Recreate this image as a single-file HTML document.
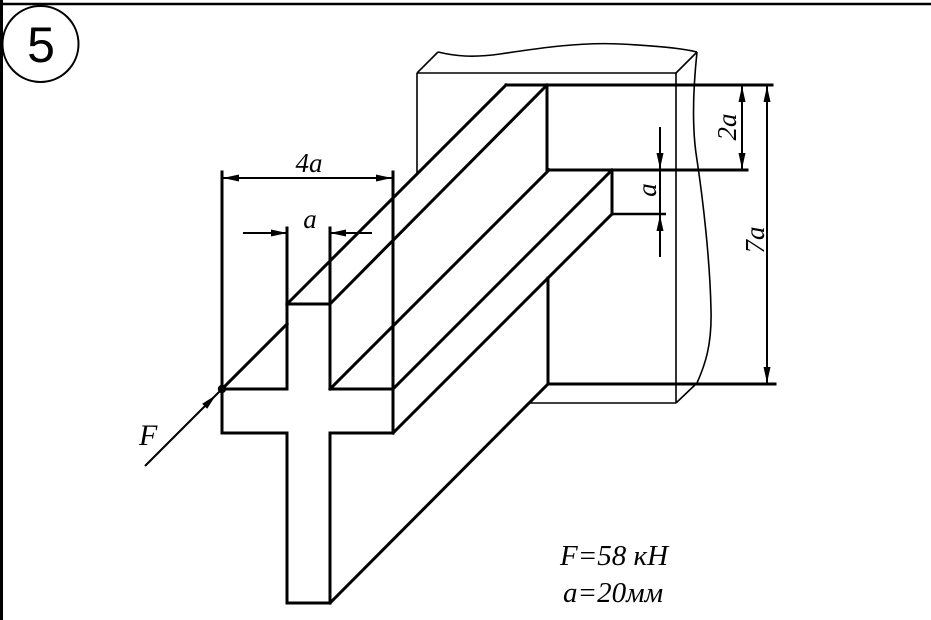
<!DOCTYPE html>
<html>
<head>
<meta charset="utf-8">
<style>
  html,body{margin:0;padding:0;background:#fff;}
  svg{display:block;}
  text{font-family:"Liberation Serif","DejaVu Serif",serif;font-style:italic;fill:#000;}
</style>
</head>
<body>
<svg width="931" height="620" viewBox="0 0 931 620" xmlns="http://www.w3.org/2000/svg">
  <rect x="0" y="0" width="931" height="620" fill="#fff"/>
  <!-- frame -->
  <line x1="0" y1="4" x2="931" y2="4" stroke="#000" stroke-width="2.6"/>
  <line x1="1.5" y1="0" x2="1.5" y2="620" stroke="#000" stroke-width="3"/>

  <!-- number circle -->
  <circle cx="40.5" cy="44" r="38" fill="none" stroke="#000" stroke-width="2"/>
  <text x="41" y="62" text-anchor="middle" style="font-family:'Liberation Sans',sans-serif;font-style:normal;font-size:50px;">5</text>

  <!-- wall (thin lines) -->
  <g fill="none" stroke="#000" stroke-width="1.6" stroke-linejoin="round">
    <path d="M417,73 L417,174"/>
    <path d="M417,73 L676,73"/>
    <path d="M676,73 L676,403"/>
    <path d="M530,403 L676,403"/>
    <path d="M417,73 L438,52"/>
    <path d="M676,73 L697,52"/>
    <path d="M438,52 C455,56 472,58 500,54 C540,48 580,42 620,44 C660,46 685,49 697,52"/>
    <path d="M697,52 C693,90 692,130 697,160 C703,200 710,260 711,310 C712,345 705,365 697,383"/>
    <path d="M697,383 L676,403"/>
  </g>

  <!-- beam (thick lines) -->
  <g fill="none" stroke="#000" stroke-width="3" stroke-linecap="square">
    <path d="M287,304 L330,304"/>
    <path d="M287,228 L287,389"/>
    <path d="M287,433 L287,603"/>
    <path d="M330,228 L330,389"/>
    <path d="M330,433 L330,603"/>
    <path d="M287,603 L330,603"/>
    <path d="M222,389 L287,389"/>
    <path d="M330,389 L393,389"/>
    <path d="M222,433 L287,433"/>
    <path d="M330,433 L393,433"/>
    <path d="M222,172 L222,433"/>
    <path d="M393,172 L393,433"/>
    <path d="M222,389 L287,324"/>
    <path d="M287,304 L506,85"/>
    <path d="M330,304 L547,85"/>
    <path d="M330,389 L549,170"/>
    <path d="M393,389 L612,170"/>
    <path d="M393,433 L612,214"/>
    <path d="M330,603 L548,384"/>
    <path d="M506,85 L772,85"/>
    <path d="M547,85 L547,170"/>
    <path d="M547,170 L747,170"/>
    <path d="M612,170 L612,214"/>
    <path d="M548,278 L548,384"/>
    <path d="M548,384 L775,384"/>
  </g>
  <line x1="612" y1="214" x2="666" y2="214" stroke="#000" stroke-width="2.5"/>

  <!-- dimension lines -->
  <g fill="none" stroke="#000" stroke-width="2">
    <path d="M222,178 L393,178"/>
    <path d="M243,233 L287,233"/>
    <path d="M330,233 L372,233"/>
    <path d="M742,85 L742,170"/>
    <path d="M767,85 L767,384"/>
    <path d="M660,127 L660,257"/>
    <path d="M145,466 L222,389"/>
  </g>
  <!-- arrowheads -->
  <g fill="#000" stroke="none">
    <polygon points="223,178 239,174.5 239,181.5"/>
    <polygon points="392,178 376,174.5 376,181.5"/>
    <polygon points="287,233 271,229.5 271,236.5"/>
    <polygon points="330,233 346,229.5 346,236.5"/>
    <polygon points="742,86 738.5,102 745.5,102"/>
    <polygon points="742,169 738.5,153 745.5,153"/>
    <polygon points="767,86 763.5,102 770.5,102"/>
    <polygon points="767,383 763.5,367 770.5,367"/>
    <polygon points="660,169 656.5,153 663.5,153"/>
    <polygon points="660,215 656.5,231 663.5,231"/>
    <polygon points="216,395 207.2,408.8 202.2,403.8"/>
    <circle cx="222" cy="389" r="4.2"/>
  </g>

  <!-- labels -->
  <text x="309" y="172" text-anchor="middle" style="font-size:27px;">4a</text>
  <text x="310" y="228" text-anchor="middle" style="font-size:27px;">a</text>
  <text transform="translate(736,127) rotate(-90)" text-anchor="middle" style="font-size:27px;">2a</text>
  <text transform="translate(656,190) rotate(-90)" text-anchor="middle" style="font-size:27px;">a</text>
  <text transform="translate(764,240) rotate(-90)" text-anchor="middle" style="font-size:27px;">7a</text>
  <text x="139" y="445" style="font-size:30px;">F</text>
  <text x="560" y="565" style="font-size:29px;">F=58 кН</text>
  <text x="563" y="602" style="font-size:29px;">a=20мм</text>
</svg>
</body>
</html>
